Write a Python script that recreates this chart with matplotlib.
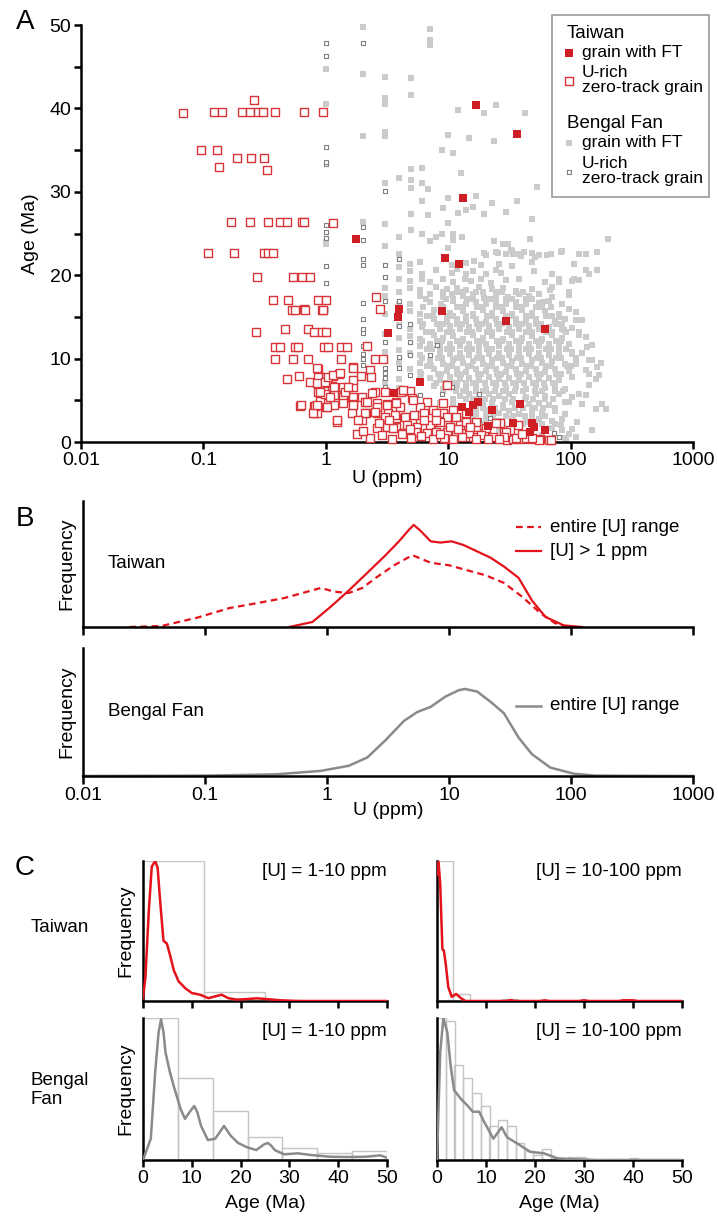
import matplotlib
matplotlib.use('Agg')
import matplotlib.pyplot as plt
from matplotlib.ticker import NullLocator
from matplotlib.patches import Rectangle

plt.rcParams['font.family'] = ['Liberation Sans', 'DejaVu Sans']

# ---------------- data ----------------
# panel A : (U ppm, age Ma)
taiwan_ft = [(16.9, 40.4), (36.3, 36.9), (13.2, 29.3), (1.77, 24.3), (9.5, 22.1), (12.3, 21.4),
             (8.95, 15.75), (29.5, 14.55), (61.8, 13.55), (3.24, 13.1), (3.94, 16.0), (3.88, 15.0),
             (5.89, 7.2), (3.6, 5.85), (13.0, 4.25), (17.6, 4.75), (16.0, 4.45), (22.7, 3.85),
             (38.6, 4.55), (34.0, 2.3), (48.6, 2.25), (50.5, 1.85), (61.8, 1.45), (46.6, 1.25),
             (21.3, 1.9), (14.9, 3.65)]

taiwan_zt = [(0.068, 39.4), (0.122, 39.6), (0.142, 39.6), (0.207, 39.6), (0.24, 39.6), (0.279, 39.6),
             (0.307, 39.6), (0.385, 39.6), (0.664, 39.6), (0.948, 39.6), (0.26, 41.0),
             (0.095, 35.0), (0.129, 35.0), (0.134, 33.0), (0.188, 34.05), (0.245, 34.05), (0.313, 34.05),
             (0.331, 32.6),
             (0.168, 26.4), (0.24, 26.4), (0.337, 26.4), (0.422, 26.4), (0.482, 26.4), (0.639, 26.4),
             (0.664, 26.4), (1.146, 26.3),
             (0.110, 22.7), (0.179, 22.7), (0.315, 22.7), (0.339, 22.7), (0.368, 22.7),
             (0.275, 19.8), (0.537, 19.8), (0.636, 19.8), (0.743, 19.8),
             (0.372, 17.0), (0.488, 17.0), (0.869, 17.0), (0.997, 17.0),
             (0.526, 15.8), (0.56, 15.8), (0.664, 15.9), (0.68, 15.8), (0.925, 15.8), (0.955, 15.8),
             (0.269, 13.2), (0.464, 13.6), (0.711, 13.6), (0.801, 13.2), (0.925, 13.2), (1.0, 13.2),
             (0.385, 11.35), (0.422, 11.35), (0.56, 11.35), (0.589, 11.35), (0.972, 11.35), (1.048, 11.35),
             (1.33, 11.35), (1.48, 11.35),
             (0.385, 9.9), (0.537, 9.9), (0.72, 9.9), (1.33, 9.9),
             (0.478, 7.55), (0.6, 7.9), (0.743, 7.2), (0.869, 8.8), (0.89, 7.75), (1.02, 7.2), (1.14, 7.9),
             (1.12, 6.75), (1.29, 8.15), (0.869, 6.0), (1.02, 5.6), (1.16, 5.6), (1.42, 6.15), (1.42, 5.25),
             (0.9, 4.95), (0.61, 4.35), (0.8, 4.35), (1.0, 4.15), (0.8, 3.45), (0.84, 3.45), (1.24, 2.45),
             (2.18, 11.5), (2.52, 9.95), (2.95, 9.95), (2.56, 17.35), (2.78, 15.9), (1.68, 8.95), (1.95, 7.9),
             (2.30, 8.6), (2.36, 7.75), (1.02, 7.05), (1.16, 6.65), (1.39, 6.65), (1.67, 6.65), (0.98, 5.75),
             (1.37, 5.45), (1.68, 5.45), (1.96, 5.45), (2.52, 6.0), (0.81, 4.3), (1.16, 4.45), (1.39, 4.7),
             (1.68, 4.55), (2.11, 4.85), (2.4, 5.85), (3.03, 6.0), (1.63, 3.45), (1.96, 2.65), (2.15, 3.5),
             (2.61, 4.65), (2.61, 3.45), (3.17, 4.55), (3.22, 3.45), (3.78, 4.85), (4.02, 4.25), (4.15, 6.0),
             (4.9, 6.15), (5.05, 5.25), (2.61, 1.65), (3.14, 1.85), (3.78, 2.85), (3.78, 1.85), (4.57, 3.05),
             (5.05, 2.3), (5.87, 3.25), (6.68, 4.85), (5.87, 4.25), (7.53, 3.85), (9.08, 4.65), (9.7, 6.85),
             (9.08, 3.45), (10.9, 3.85), (11.6, 3.05), (14.0, 3.45), (9.7, 2.45), (5.4, 1.25), (6.25, 1.65),
             (7.3, 1.45), (9.7, 1.25), (9.7, 0.3), (11.6, 1.05), (14.0, 1.1), (15.9, 0.65), (16.9, 1.85),
             (19.6, 1.05), (23.2, 0.65), (26.6, 2.25), (28.5, 1.25), (30.0, 0.25), (33.8, 0.3), (37.2, 2.05),
             (38.6, 0.3), (46.9, 0.3), (56.4, 0.3), (67.2, 0.25), (31.9, 1.45),
             (2.16, 4.85), (2.61, 4.25), (3.17, 4.45), (3.78, 4.65), (4.27, 6.2), (5.2, 5.05), (2.11, 3.45),
             (2.52, 3.65), (3.03, 3.05), (3.66, 3.25), (4.4, 3.05), (5.3, 3.25), (6.4, 3.45), (8.0, 3.45),
             (9.7, 3.05), (3.17, 1.85), (4.57, 2.05), (5.6, 1.85), (7.1, 2.05), (8.6, 2.45), (10.3, 1.85),
             (12.4, 2.05), (14.1, 2.45), (17.0, 2.45), (20.5, 1.65), (24.8, 2.25), (29.7, 1.25), (35.8, 0.45),
             (43.5, 0.45), (55.0, 0.2), (69.5, 0.25), (9.3, 0.5), (8.0, 1.25), (6.7, 1.05), (5.5, 1.25),
             (4.3, 1.05), (3.55, 1.65), (14.9, 1.05), (18.4, 0.85), (28.5, 0.65),
             (0.84, 8.85), (0.87, 7.85), (0.84, 7.05), (0.90, 6.05), (0.98, 7.25), (1.04, 7.85), (1.15, 8.05),
             (1.31, 8.25), (1.43, 6.05), (1.67, 7.45), (1.67, 8.85), (1.53, 6.65), (1.08, 5.45), (0.79, 3.45),
             (0.84, 4.45), (1.02, 4.25), (1.23, 2.65), (1.67, 4.45), (1.84, 2.65), (0.63, 4.45),
             (1.8, 0.9), (2.3, 0.5), (2.9, 0.8), (3.5, 0.4), (4.2, 0.9), (5.0, 0.5), (6.0, 0.7), (7.5, 0.4),
             (8.5, 0.9), (11.0, 0.4), (13.0, 0.6), (17.0, 0.3), (21.0, 0.4), (2.0, 1.3), (2.7, 2.3),
             (3.3, 2.6), (4.9, 1.5), (6.4, 2.6), (7.9, 2.6), (12.0, 1.5), (15.0, 1.8), (26.0, 0.4),
             (40.0, 1.0), (48.0, 0.5)]

bengal_zt = [(1.0, 47.9), (1.0, 46.3), (1.0, 35.4), (1.0, 33.3), (1.0, 33.6), (2.0, 47.9), (3.03, 30.1),
             (1.0, 26.0), (1.0, 25.2), (1.0, 24.5), (2.0, 25.8), (2.0, 24.2), (1.0, 21.1), (1.0, 19.1),
             (2.0, 21.9), (2.0, 21.2), (3.03, 21.2), (3.03, 19.8), (4.0, 21.9), (2.0, 16.7), (3.03, 16.9),
             (4.0, 16.9), (2.0, 14.8), (2.0, 13.6), (2.0, 13.1), (3.03, 12.0), (4.0, 13.9), (4.9, 14.2),
             (2.0, 11.5), (2.0, 10.6), (2.0, 10.0), (2.0, 9.2), (3.03, 8.85), (3.03, 8.25), (3.03, 7.65),
             (3.03, 6.65), (4.0, 10.2), (4.0, 8.85), (4.9, 12.0), (4.9, 10.4), (4.9, 8.05), (7.06, 10.4),
             (8.1, 11.6), (10.8, 6.65), (8.9, 5.75), (18.0, 5.75), (5.9, 5.6), (13.6, 3.85), (18.0, 2.65),
             (21.9, 2.85), (73.0, 1.05), (80.0, 0.65)]

bengal_ft = [(2.03, 49.8), (7.06, 49.5), (7.06, 48.2), (7.06, 47.6), (1.0, 44.7), (2.03, 44.1), (3.03, 43.8),
             (5.0, 43.6), (3.03, 41.3), (3.03, 40.5), (5.0, 41.6), (1.0, 40.5), (12.0, 39.8), (19.7, 39.4),
             (24.6, 40.4), (42.2, 39.5), (2.03, 36.7), (3.03, 37.2), (3.03, 36.7), (10.0, 36.8), (14.9, 36.4),
             (23.8, 36.1), (8.9, 35.0), (10.9, 34.6), (5.0, 32.7), (6.1, 32.8), (4.0, 31.6), (5.0, 31.4),
             (6.1, 31.1), (6.9, 30.3), (5.0, 30.4), (12.7, 32.2), (3.03, 31.0), (10.0, 29.3), (17.0, 29.5),
             (22.7, 28.7), (36.5, 28.9), (9.0, 28.1), (12.0, 27.5), (14.0, 27.8), (15.8, 28.2), (19.7, 27.3),
             (29.7, 27.6), (48.0, 26.7), (5.0, 27.3), (5.0, 25.4), (6.1, 28.9), (6.9, 27.2), (10.0, 26.2),
             (1.0, 23.8), (3.03, 26.1), (3.03, 23.5), (4.0, 24.6), (4.0, 22.5), (6.1, 25.0), (7.06, 24.1),
             (8.0, 24.6), (8.9, 25.0), (10.9, 25.0), (10.9, 24.2), (23.8, 24.1), (30.6, 23.7), (32.6, 23.0),
             (37.6, 22.6), (41.3, 22.8), (19.7, 22.7), (25.3, 22.7), (47.0, 24.3), (53.0, 30.6), (204, 24.3),
             (1.0, 24.0), (1.0, 15.8), (13.0, 24.6), (10.0, 23.3), (2.03, 26.4),
             (28.0, 23.8), (34.0, 22.6), (51.0, 22.2), (55.5, 22.4), (48.5, 21.6), (69, 22.6), (84, 22.8),
             (117, 22.6), (133, 20.6), (141, 20.2), (165, 20.6), (106, 19.6), (117, 19.4), (97, 16.0),
             (110, 14.6), (117, 13.2), (117, 12.8), (136, 11.4), (150, 9.8), (165, 9.0), (141, 8.2), (170, 8.0),
             (102, 10.8), (110, 9.4), (88, 13.4), (75, 14.4), (68, 18.2), (60, 16.8), (80, 19.2), (97, 18.0),
             (69, 16.2), (80, 15.0), (160, 4.0), (193, 4.0), (113, 2.4), (97, 1.0), (150, 1.4), (84, 2.0),
             (92, 0.2), (141, 6.8), (117, 5.8), (97, 4.8),
             (20.4, 22.4), (24.6, 22.8), (29.7, 22.5), (33.5, 22.9), (39, 22.3), (48.6, 22.7), (64, 22.4),
             (85, 22.9), (133, 22.5), (165, 22.8),
             (4.85, 21.3), (5.86, 21.6), (10.7, 21.2), (14.0, 21.5), (16.4, 21.7), (18.6, 21.2), (26.1, 21.4),
             (33.5, 21.1), (48.6, 21.6), (106, 21.3),
             (4.85, 20.5), (6.1, 20.2), (8.0, 20.6), (10.7, 20.3), (11.7, 20.7), (14.0, 20.2), (15.9, 20.5),
             (20.4, 20.1), (24.6, 20.6), (27, 20.3), (50.1, 20.5), (70, 20.2),
             (4.85, 19.3), (6.1, 19.6), (7.06, 19.2), (9.1, 19.5), (10.9, 19.2), (13.6, 19.6), (15.4, 19.3),
             (18.6, 19.5), (22.3, 19.1), (29.7, 19.4), (37.9, 19.6), (62, 19.2), (80, 19.5), (103, 19.3),
             (4.85, 18.5), (5.86, 18.2), (8.0, 18.6), (9.8, 18.3), (11.7, 18.5), (14.0, 18.2), (18.0, 18.6),
             (23.0, 18.3), (28, 18.5), (35.6, 18.1), (48.6, 18.4), (70, 18.6),
             (5.86, 17.5), (7.06, 17.7), (9.1, 17.4), (10.7, 17.8), (13.2, 17.5), (15.9, 17.7), (19.7, 17.3),
             (24.6, 17.6), (30.6, 17.4), (37.9, 17.8), (45.7, 17.5), (55, 17.7), (70, 17.4), (97, 17.6),
             (4.85, 16.6), (7.06, 16.8), (8.8, 16.5), (10.9, 16.9), (14.0, 16.6), (17.0, 16.8), (20.4, 16.5),
             (24.6, 16.9), (29.7, 16.6), (35.6, 16.8), (43, 16.5), (55, 16.7), (66, 16.9), (85, 16.6),
             (4.85, 15.7), (5.86, 15.4), (7.6, 15.8), (10.3, 15.5), (13.2, 15.7), (15.9, 15.4), (19.1, 15.8),
             (23.0, 15.5), (28, 15.7), (33.5, 15.4), (40.3, 15.8), (48.6, 15.5), (62, 15.7), (80, 15.4),
             (110, 15.6),
             (5.86, 14.5), (7.6, 14.7), (9.8, 14.4), (11.7, 14.8), (14.0, 14.5), (17.0, 14.7), (20.4, 14.4),
             (24.6, 14.8), (29.7, 14.5), (35.6, 14.7), (43, 14.4), (51.7, 14.8), (75, 14.5), (90, 14.7),
             (124, 14.6),
             (4.85, 13.6), (6.1, 13.8), (8.5, 13.5), (10.3, 13.9), (12.4, 13.6), (14.9, 13.8), (18.0, 13.5),
             (21.7, 13.9), (26.1, 13.6), (31.5, 13.8), (37.9, 13.5), (45.7, 13.9), (55, 13.6), (66, 13.8),
             (85, 13.5), (103, 13.7),
             (4.85, 12.7), (5.86, 12.4), (7.6, 12.8), (9.1, 12.5), (10.9, 12.7), (13.2, 12.4), (15.9, 12.8),
             (19.1, 12.5), (23.0, 12.7), (28, 12.4), (33.5, 12.8), (40.3, 12.5), (48.6, 12.7), (58.6, 12.4),
             (70, 12.8), (85, 12.5), (133, 12.6),
             (5.86, 11.5), (7.06, 11.7), (8.5, 11.4), (10.3, 11.8), (12.4, 11.5), (14.9, 11.7), (18.0, 11.4),
             (20.4, 11.8), (26.1, 11.5), (31.5, 11.7), (37.9, 11.4), (45.7, 11.8), (55, 11.5), (66, 11.7),
             (80, 11.4), (97, 11.8), (150, 11.6),
             (4.85, 10.7), (5.86, 10.4), (8.5, 10.8), (10.3, 10.5), (12.4, 10.7), (14.9, 10.4), (18.0, 10.8),
             (21.7, 10.5), (26.1, 10.7), (31.5, 10.4), (37.9, 10.8), (45.7, 10.5), (55, 10.7), (66, 10.4),
             (80, 10.8), (103, 10.5), (124, 10.7),
             (5.86, 9.5), (7.06, 9.7), (9.1, 9.4), (10.9, 9.8), (13.2, 9.5), (15.9, 9.7), (19.1, 9.4),
             (23.0, 9.8), (28, 9.5), (33.5, 9.7), (40.3, 9.4), (48.6, 9.8), (58.6, 9.5), (70, 9.7), (90, 9.4),
             (141, 9.8), (177, 9.5),
             (4.85, 8.7), (5.86, 8.4), (7.6, 8.8), (9.8, 8.5), (11.7, 8.7), (14.0, 8.4), (17.0, 8.8),
             (20.4, 8.5), (24.6, 8.7), (29.7, 8.4), (35.6, 8.8), (43, 8.5), (51.7, 8.7), (62, 8.4), (75, 8.8),
             (97, 8.5), (133, 8.6),
             (5.86, 7.5), (7.06, 7.7), (8.5, 7.4), (10.3, 7.8), (12.4, 7.5), (14.9, 7.7), (18.0, 7.4),
             (21.7, 7.8), (26.1, 7.5), (31.5, 7.7), (37.9, 7.4), (45.7, 7.8), (55, 7.5), (66, 7.7), (80, 7.4),
             (103, 7.8), (160, 7.5),
             (7.6, 6.7), (9.1, 6.4), (11.7, 6.8), (14.0, 6.5), (17.0, 6.7), (20.4, 6.4), (24.6, 6.8),
             (29.7, 6.5), (35.6, 6.7), (43, 6.4), (51.7, 6.8), (62, 6.5), (75, 6.7), (90, 6.4),
             (12.4, 5.5), (14.9, 5.7), (18.0, 5.4), (21.7, 5.8), (26.1, 5.5), (31.5, 5.7), (43, 5.4),
             (51.7, 5.8), (62, 5.5), (80, 5.7), (103, 5.4), (133, 5.6),
             (8.5, 4.7), (10.9, 4.4), (15.9, 4.8), (19.1, 4.5), (23.0, 4.7), (28, 4.4), (33.5, 4.8),
             (45.7, 4.5), (55, 4.7), (66, 4.4), (90, 4.8), (124, 4.5), (182, 4.6),
             (10.3, 3.5), (14.0, 3.7), (17.0, 3.4), (20.4, 3.8), (26.1, 3.5), (31.5, 3.7), (37.9, 3.4),
             (48.6, 3.8), (58.6, 3.5), (75, 3.7), (90, 3.4),
             (12.4, 2.7), (15.9, 2.4), (20.4, 2.8), (26.1, 2.5), (33.5, 2.7), (43, 2.4), (55, 2.8), (70, 2.5),
             (85, 2.7),
             (15.9, 1.5), (20.4, 1.7), (26.1, 1.4), (35.6, 1.8), (48.6, 1.5), (70, 1.7), (85, 1.4), (103, 1.6),
             (23.0, 0.5), (31.5, 0.7), (43, 0.4), (58.6, 0.8), (90, 0.5), (110, 0.6),
             (4.0, 21.0), (4.0, 19.5), (4.0, 18.0), (4.0, 16.5), (4.0, 15.0), (4.0, 14.0), (4.0, 12.5),
             (4.0, 11.0), (4.0, 9.5), (4.0, 7.5), (4.0, 6.5),
             (3.03, 18.5), (3.03, 17.5), (3.03, 15.3), (3.03, 13.0), (3.03, 10.8), (3.03, 9.7), (3.03, 7.2),
             (3.03, 6.0)]

# dense core of the Bengal Fan cloud, read row by row: (age, [U values])
bengal_ft_core = [
    (18.0, [9.0, 11.8, 13.1, 17.0, 19.2, 24.5, 27.5, 35.5, 40.5]),
    (17.1, [6.6, 9.6, 10.9, 14.2, 15.8, 20.5, 23.0, 29.8, 33.2, 43.0, 48.5]),
    (16.2, [6.2, 9.0, 11.8, 13.1, 17.1, 19.0, 24.8, 27.6, 35.8, 40.0, 52.0, 58.0]),
    (15.1, [6.7, 7.5, 9.7, 10.9, 14.1, 15.8, 20.6, 23.0, 29.9, 33.1, 43.2, 48.3, 62.5, 70.5]),
    (14.1, [6.2, 8.1, 9.0, 11.8, 13.0, 17.1, 19.0, 24.9, 27.5, 36.0, 39.8, 52.3, 57.6, 76.0, 85.0]),
    (13.2, [6.6, 7.4, 9.7, 10.8, 14.2, 15.7, 20.7, 22.8, 30.0, 33.0, 43.4, 48.0, 62.8, 70.0, 92.0]),
    (12.1, [6.1, 8.1, 8.9, 11.8, 12.9, 17.2, 18.9, 25.0, 27.4, 36.1, 39.6, 52.5, 57.3, 76.2, 84.0]),
    (11.1, [6.7, 7.4, 9.8, 10.7, 14.3, 15.6, 20.8, 22.7, 30.1, 32.8, 43.6, 47.8, 63.0, 69.6, 92.5]),
    (10.1, [6.1, 8.2, 8.9, 11.9, 12.9, 17.3, 18.8, 25.1, 27.3, 36.3, 39.4, 52.7, 57.0, 76.4, 83.5, 110]),
    (9.1, [6.7, 7.3, 9.8, 10.7, 14.4, 15.5, 20.9, 22.6, 30.2, 32.7, 43.8, 47.6, 63.2, 69.2, 92.8, 101]),
    (8.1, [6.0, 8.2, 8.8, 11.9, 12.8, 17.4, 18.7, 25.2, 27.2, 36.4, 39.2, 52.9, 56.8, 76.6, 83.0]),
    (7.1, [7.9, 9.5, 11.1, 13.9, 16.0, 19.9, 23.4, 29.0, 34.0, 42.0, 49.5, 61.0, 72.0]),
    (6.1, [9.0, 11.6, 13.3, 16.8, 19.4, 24.2, 28.0, 35.2, 40.8, 51.5, 58.5, 74.0, 86.0]),
    (5.1, [11.0, 13.9, 16.0, 20.0, 23.3, 29.3, 33.8, 42.5, 49.0, 61.5, 71.5]),
    (4.1, [13.3, 16.8, 19.3, 24.3, 28.2, 35.0, 41.0, 51.0, 59.0, 75.0]),
    (3.1, [16.0, 20.2, 23.2, 29.5, 33.7, 42.8, 48.8, 61.5]),
    (2.1, [19.2, 24.4, 28.0, 35.3, 40.5, 51.2, 58.8, 74.5]),
]

# panel B : U (ppm) vs relative frequency
tw_all_u = [0.024, 0.044, 0.087, 0.158, 0.269, 0.447, 0.631, 0.891, 1.15, 1.51, 1.95, 2.51, 3.55, 5.01,
            7.08, 10.0, 14.1, 20.0, 28.2, 39.8, 56.2, 74.1, 95.5]
tw_all_f = [0, 0.008, 0.075, 0.15, 0.19, 0.23, 0.27, 0.31, 0.28, 0.27, 0.31, 0.39, 0.49, 0.57,
            0.51, 0.49, 0.45, 0.41, 0.35, 0.24, 0.11, 0.03, 0]
tw_gt1_u = [0.49, 0.76, 1.07, 1.51, 2.14, 3.02, 3.89, 4.68, 5.13, 5.75, 7.08, 8.51, 10.5, 13.2, 17.0,
            21.9, 28.2, 37.2, 47.9, 61.7, 87.1, 123]
tw_gt1_f = [0, 0.04, 0.16, 0.29, 0.43, 0.57, 0.68, 0.77, 0.81, 0.77, 0.68, 0.67, 0.68, 0.65, 0.60,
            0.55, 0.48, 0.39, 0.21, 0.08, 0.013, 0]
bf_all_u = [0.01, 0.102, 0.38, 0.891, 1.51, 2.14, 3.02, 4.27, 5.50, 7.08, 9.33, 12.0, 13.5, 17.0, 21.9,
            28.2, 37.2, 47.9, 67.6, 105, 158, 1000]
bf_all_f = [0, 0.003, 0.013, 0.04, 0.08, 0.145, 0.28, 0.43, 0.50, 0.54, 0.62, 0.67, 0.68, 0.66, 0.58,
            0.49, 0.30, 0.17, 0.066, 0.018, 0.003, 0]

# panel C : age (Ma) vs relative frequency
tw_1_10_age = [0, 0.5, 1.2, 1.8, 2.5, 3.0, 3.5, 4.2, 4.9, 5.6, 6.3, 7.3, 8.7, 10.0, 11.7, 13.4, 14.8,
               16.1, 17.5, 19.2, 21.3, 23.3, 25.3, 28.1, 32, 50]
tw_1_10_f = [0.02, 0.17, 0.65, 0.96, 1.0, 0.95, 0.72, 0.43, 0.41, 0.32, 0.22, 0.14, 0.09, 0.057, 0.045,
             0.02, 0.033, 0.045, 0.02, 0.01, 0.014, 0.019, 0.014, 0.005, 0, 0]
tw_1_10_bins = [0, 12.5]
tw_1_10_hist = [1.0, 0.066]

tw_10_100_age = [0, 0.3, 0.65, 1.1, 1.4, 1.8, 2.3, 3.0, 3.9, 4.9, 5.8, 14, 15, 16, 21, 22, 23, 29, 30, 31,
                 37, 38, 40, 41, 50]
tw_10_100_f = [0.9, 1.0, 0.84, 0.37, 0.36, 0.26, 0.10, 0.03, 0.05, 0.02, 0, 0, 0.006, 0, 0, 0.005, 0, 0,
               0.005, 0, 0, 0.005, 0.005, 0, 0]
tw_10_100_bins = [0, 3.33, 13.3]
tw_10_100_hist = [1.0, 0.053, 0.012]

bf_1_10_age = [0, 1.6, 2.5, 3.2, 3.7, 4.2, 4.6, 5.5, 6.3, 7.7, 8.6, 9.6, 10.5, 11.1, 11.9, 13.3, 14.8,
               16.0, 16.6, 17.2, 18.0, 19.5, 21.3, 23.2, 24.8, 25.6, 26.3, 27.0, 28.9, 31.7, 34.5, 38.3,
               42, 45.8, 48.6, 50]
bf_1_10_f = [0, 0.15, 0.62, 0.90, 0.99, 0.90, 0.76, 0.62, 0.52, 0.36, 0.29, 0.34, 0.38, 0.34, 0.24, 0.14,
             0.15, 0.21, 0.24, 0.21, 0.17, 0.12, 0.09, 0.07, 0.11, 0.12, 0.10, 0.07, 0.04, 0.047, 0.035,
             0.023, 0.021, 0.023, 0.033, 0.016]
bf_1_10_bins = [0, 7.14, 14.29, 21.43, 28.57, 35.71, 42.86]
bf_1_10_hist = [1.0, 0.574, 0.344, 0.163, 0.081, 0.051, 0.063]

bf_10_100_age = [0, 0.66, 1.3, 2.1, 2.8, 3.5, 4.9, 6.3, 7.3, 8.6, 9.6, 11.5, 13.2, 14.3, 16.2, 19, 21.8,
                 24.6, 28.4, 33, 50]
bf_10_100_f = [0, 0.76, 1.0, 0.9, 0.66, 0.49, 0.43, 0.38, 0.34, 0.34, 0.27, 0.15, 0.23, 0.16, 0.12, 0.058,
               0.047, 0.012, 0.005, 0, 0]
bf_10_100_bins = [0, 1.79, 3.57, 5.36, 7.14, 8.93, 10.71, 12.5, 14.29, 16.07, 17.86, 19.64, 21.43, 23.21,
                  25.0, 26.79, 28.57, 35.71, 39.29]
bf_10_100_hist = [1.0, 0.98, 0.67, 0.574, 0.47, 0.38, 0.24, 0.28, 0.24, 0.12, 0.063, 0.035, 0.08, 0.012,
                  0.01, 0.023, 0.023, 0.008, 0.015]

# ---------------- style ----------------
W, H = 718, 1219
RED = '#cf1f25'
RED_LINE = '#e3121b'
RED_OPEN = '#d8353a'
GRAY_PT = '#cbcbcb'
GRAY_OPEN = '#7f7f7f'
GRAY_LINE = '#8a8a8a'
HIST = '#c4c4c4'
LW = 1.8
FS = 14


def rect(l, t, r, b):
    return [l / W, 1 - b / H, (r - l) / W, (b - t) / H]


def style(ax, ticklen=5):
    for s in ['top', 'right']:
        ax.spines[s].set_visible(False)
    for s in ['left', 'bottom']:
        ax.spines[s].set_linewidth(LW)
    ax.tick_params(which='both', direction='out', length=ticklen, width=LW, labelsize=FS, pad=2)


fig = plt.figure(figsize=(W / 100, H / 100), dpi=100)

# ---------------- panel A ----------------
ax = fig.add_axes(rect(81, 25, 693, 442))
style(ax)
ax.set_xscale('log')
ax.set_xlim(0.01, 1000)
ax.set_ylim(0, 50)
core_u = [u for age, us in bengal_ft_core for u in us]
core_age = [age for age, us in bengal_ft_core for u in us]
ax.scatter(core_u, core_age, marker='s', s=19, color=GRAY_PT, linewidths=0, zorder=2)
ax.scatter([p[0] for p in bengal_ft], [p[1] for p in bengal_ft], marker='s', s=19, color=GRAY_PT,
           linewidths=0, zorder=2, clip_on=False)
ax.scatter([p[0] for p in bengal_zt], [p[1] for p in bengal_zt], marker='s', s=10, facecolor='white',
           edgecolor=GRAY_OPEN, linewidths=0.8, zorder=3, clip_on=False)
ax.scatter([p[0] for p in taiwan_zt], [p[1] for p in taiwan_zt], marker='s', s=31, facecolor='white',
           edgecolor=RED_OPEN, linewidths=1.0, zorder=4, clip_on=False)
ax.scatter([p[0] for p in taiwan_ft], [p[1] for p in taiwan_ft], marker='s', s=40, color=RED,
           linewidths=0, zorder=5, clip_on=False)
ax.set_xticks([0.01, 0.1, 1, 10, 100, 1000])
ax.set_xticklabels(['0.01', '0.1', '1', '10', '100', '1000'])
ax.xaxis.set_minor_locator(NullLocator())
ax.set_yticks([0, 10, 20, 30, 40, 50])
ax.set_yticks([5, 15, 25, 35, 45], minor=True)
ax.set_ylabel('Age (Ma)', fontsize=FS)
ax.yaxis.set_label_coords(-0.068, 0.5)
ax.set_xlabel('U (ppm)', fontsize=FS)
ax.xaxis.set_label_coords(0.5, -0.068)

# ---------------- panel B ----------------
axb1 = fig.add_axes(rect(83, 501, 693, 627))
axb2 = fig.add_axes(rect(83, 648, 693, 776))
for a in (axb1, axb2):
    style(a, ticklen=6)
    a.set_xscale('log')
    a.set_xlim(0.01, 1000)
    a.set_ylim(0, 1)
    a.set_yticks([])
    a.set_xticks([0.01, 0.1, 1, 10, 100, 1000])
    a.xaxis.set_minor_locator(NullLocator())
    a.set_ylabel('Frequency', fontsize=FS)
    a.yaxis.set_label_coords(-0.012, 0.5)
axb1.set_xticklabels([])
axb2.set_xticklabels(['0.01', '0.1', '1', '10', '100', '1000'])
axb2.set_xlabel('U (ppm)', fontsize=FS)
axb2.xaxis.set_label_coords(0.5, -0.2)
axb1.plot(tw_all_u, tw_all_f, color=RED_LINE, lw=1.6, dashes=(3, 2), clip_on=False)
axb1.plot(tw_gt1_u, tw_gt1_f, color=RED_LINE, lw=1.6, clip_on=False)
axb2.plot(bf_all_u, bf_all_f, color=GRAY_LINE, lw=1.8, clip_on=False)

# ---------------- panel C ----------------
c_axes = [
    (rect(143, 861, 387, 1001), tw_1_10_bins, tw_1_10_hist, 12.5, tw_1_10_age, tw_1_10_f, RED_LINE, False),
    (rect(437, 861, 682, 1001), tw_10_100_bins, tw_10_100_hist, 3.33, tw_10_100_age, tw_10_100_f, RED_LINE, False),
    (rect(143, 1018, 387, 1160), bf_1_10_bins, bf_1_10_hist, 7.14, bf_1_10_age, bf_1_10_f, GRAY_LINE, True),
    (rect(437, 1018, 682, 1160), bf_10_100_bins, bf_10_100_hist, 1.786, bf_10_100_age, bf_10_100_f, GRAY_LINE, True),
]
for i, (r, bins, hist, bw, age, f, col, bottom) in enumerate(c_axes):
    a = fig.add_axes(r)
    style(a)
    a.bar(bins, hist, width=bw, align='edge', fill=False, edgecolor=HIST, linewidth=1.0, zorder=1)
    a.plot(age, f, color=col, lw=1.8, zorder=3)
    a.set_xlim(0, 50)
    a.set_ylim(0, 1)
    a.set_yticks([])
    a.set_xticks([0, 10, 20, 30, 40, 50])
    if bottom:
        a.set_xlabel('Age (Ma)', fontsize=FS)
        a.xaxis.set_label_coords(0.5, -0.25)
    else:
        a.set_xticklabels([])
    if i % 2 == 0:
        a.set_ylabel('Frequency', fontsize=FS)
        a.yaxis.set_label_coords(-0.037, 0.5)

# ---------------- overlay text / legend ----------------
ov = fig.add_axes([0, 0, 1, 1])
ov.set_xlim(0, W)
ov.set_ylim(H, 0)
ov.axis('off')

for lab, y in [('A', 22), ('B', 519), ('C', 868)]:
    ov.text(25, y, lab, fontsize=20, ha='center', va='center')

# legend of A
ov.add_patch(Rectangle((552, 15), 157, 182, fill=False, edgecolor='#9a9a9a', lw=1.2))
LFS = 12.5
ov.text(567, 33, 'Taiwan', fontsize=13.5, va='center')
ov.scatter([569], [53], marker='s', s=40, color=RED, linewidths=0)
ov.text(582, 53, 'grain with FT', fontsize=LFS, va='center')
ov.scatter([569], [81], marker='s', s=31, facecolor='white', edgecolor=RED_OPEN, linewidths=1.0)
ov.text(582, 80, 'U-rich\nzero-track grain', fontsize=LFS, va='center', linespacing=0.95)
ov.text(567, 123, 'Bengal Fan', fontsize=13.5, va='center')
ov.scatter([569], [143], marker='s', s=19, color=GRAY_PT, linewidths=0)
ov.text(582, 143, 'grain with FT', fontsize=LFS, va='center')
ov.scatter([569], [172], marker='s', s=10, facecolor='white', edgecolor=GRAY_OPEN, linewidths=0.8)
ov.text(582, 171, 'U-rich\nzero-track grain', fontsize=LFS, va='center', linespacing=0.95)

# legend / labels of B
ov.plot([516, 541], [527, 527], color=RED_LINE, lw=1.6, dashes=(3, 2))
ov.text(550, 527, 'entire [U] range', fontsize=13.5, va='center')
ov.plot([516, 541], [551, 551], color=RED_LINE, lw=1.6)
ov.text(550, 551, '[U] > 1 ppm', fontsize=13.5, va='center')
ov.plot([516, 541], [706, 706], color=GRAY_LINE, lw=1.8)
ov.text(550, 706, 'entire [U] range', fontsize=13.5, va='center')
ov.text(108, 563, 'Taiwan', fontsize=13.5, va='center')
ov.text(108, 711, 'Bengal Fan', fontsize=13.5, va='center')

# labels of C
ov.text(387, 872, '[U] = 1-10 ppm', fontsize=13.5, va='center', ha='right')
ov.text(682, 872, '[U] = 10-100 ppm', fontsize=13.5, va='center', ha='right')
ov.text(387, 1031, '[U] = 1-10 ppm', fontsize=13.5, va='center', ha='right')
ov.text(682, 1031, '[U] = 10-100 ppm', fontsize=13.5, va='center', ha='right')
ov.text(31, 928, 'Taiwan', fontsize=13.5, va='center')
ov.text(31, 1090, 'Bengal\nFan', fontsize=13.5, va='center', linespacing=1.15)

fig.savefig('out.png', dpi=100)
